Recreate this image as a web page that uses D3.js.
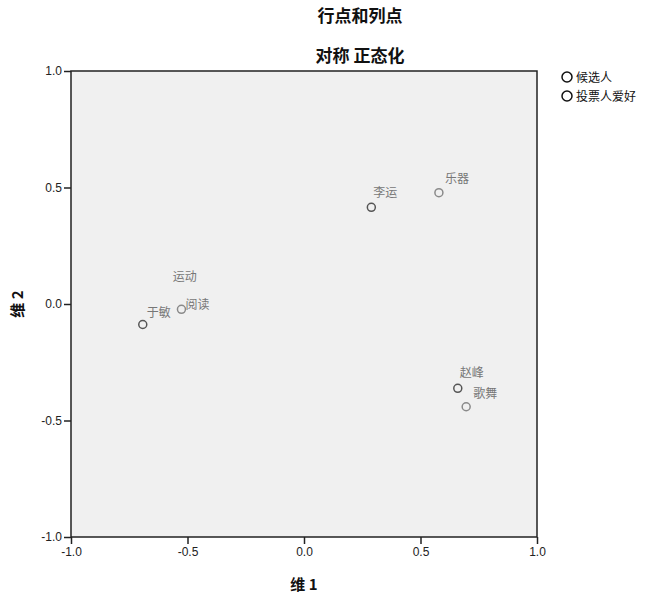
<!DOCTYPE html>
<html><head><meta charset="utf-8">
<script src="https://cdn.jsdelivr.net/npm/d3@7"></script>
<style>body{margin:0;background:#fff}</style>
</head><body>
<script>
const titles = ["行点和列点", "对称 正态化"];
const seriesNames = ["候选人", "投票人爱好"];
const rowLabels = ["于敏", "李运", "赵峰"];
const rowDim1 = [-0.692, 0.289, 0.660];
const rowDim2 = [-0.088, 0.415, -0.362];
const colLabels = ["阅读", "运动", "乐器", "歌舞"];
const colDim1 = [-0.526, -0.520, 0.579, 0.696];
const colDim2 = [-0.023, -0.020, 0.478, -0.441];
const tickValues = [-1.0, -0.5, 0.0, 0.5, 1.0];
const axisTitles = ["维 1", "维 2"];

// label offsets (layout only)
const labelOffsets = {"于敏":[4,-8],"李运":[2,-10],"赵峰":[2,-11],"阅读":[4,0],"运动":[-10,-28],"乐器":[6,-10],"歌舞":[7,-9]};

const W = 650, H = 600;
const svg = d3.select("body").append("svg").attr("width", W).attr("height", H)
  .style("font-family", "Arial, 'Liberation Sans', 'Noto Sans CJK SC', sans-serif");

const L = 71, T = 71, S = 466;
const x = d3.scaleLinear().domain([-1, 1]).range([L, L + S]);
const y = d3.scaleLinear().domain([-1, 1]).range([T + S, T]);

svg.append("rect").attr("x", L).attr("y", T).attr("width", S).attr("height", S)
  .attr("fill", "#f0f0f0").attr("stroke", "#222").attr("stroke-width", 1.5);

const fmt = v => d3.format(".1f")(v).replace("−", "-");
const xa = svg.append("g").attr("transform", `translate(0,${T + S})`)
  .call(d3.axisBottom(x).tickValues(tickValues).tickFormat(fmt).tickSize(7).tickPadding(3));
const ya = svg.append("g").attr("transform", `translate(${L},0)`)
  .call(d3.axisLeft(y).tickValues(tickValues).tickFormat(fmt).tickSize(7).tickPadding(2));
[xa, ya].forEach(a => {
  a.select(".domain").remove();
  a.selectAll("line").attr("stroke", "#222").attr("stroke-width", 1.5);
  a.selectAll("text").attr("font-size", 12).attr("fill", "#222")
    .style("font-family", "Arial, 'Liberation Sans', sans-serif");
});

// titles
svg.selectAll("text.title").data(titles).enter().append("text")
  .attr("x", 360).attr("y", (d, i) => 22 + i * 40)
  .attr("text-anchor", "middle").attr("font-size", 17).attr("font-weight", "bold")
  .attr("fill", "#111").style("font-family", "'Noto Sans CJK SC', sans-serif").text(d => d);

// axis titles
svg.append("text").attr("x", x(0)).attr("y", 590).attr("text-anchor", "middle")
  .attr("font-size", 15).attr("font-weight", "bold").attr("fill", "#111")
  .style("font-family", "'Noto Sans CJK SC', sans-serif").text(axisTitles[0]);
svg.append("text").attr("transform", `translate(23,${y(0)}) rotate(-90)`).attr("text-anchor", "middle")
  .attr("font-size", 15).attr("font-weight", "bold").attr("fill", "#111")
  .style("font-family", "'Noto Sans CJK SC', sans-serif").text(axisTitles[1]);

const rows = rowLabels.map((l, i) => ({label: l, x: rowDim1[i], y: rowDim2[i], s: 0}));
const cols = colLabels.map((l, i) => ({label: l, x: colDim1[i], y: colDim2[i], s: 1}));
const colors = ["#555", "#8a8a8a"];
const all = cols.concat(rows);

svg.append("g").selectAll("circle").data(all.filter(d => d.label !== "运动")).enter().append("circle")
  .attr("cx", d => x(d.x)).attr("cy", d => y(d.y)).attr("r", 4)
  .attr("fill", "none").attr("stroke", d => colors[d.s]).attr("stroke-width", 1.5);

svg.append("g").selectAll("text").data(all).enter().append("text")
  .attr("x", d => x(d.x) + labelOffsets[d.label][0])
  .attr("y", d => y(d.y) + labelOffsets[d.label][1])
  .attr("font-size", 12).attr("fill", "#777")
  .style("font-family", "'Noto Sans CJK SC', sans-serif").text(d => d.label);

// legend
const lg = svg.append("g");
seriesNames.forEach((n, i) => {
  lg.append("circle").attr("cx", 567).attr("cy", 77 + i * 19).attr("r", 5)
    .attr("fill", "none").attr("stroke", "#111").attr("stroke-width", 1.5);
  lg.append("text").attr("x", 576).attr("y", 82 + i * 19).attr("font-size", 12).attr("fill", "#111")
    .style("font-family", "'Noto Sans CJK SC', sans-serif").text(n);
});
</script>
</body></html>
